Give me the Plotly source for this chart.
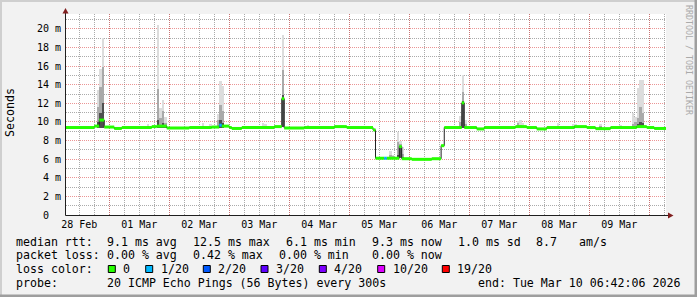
import numpy as np
import pandas as pd
import plotly.graph_objects as go

# ---------------- data ----------------
range_start = "2026-02-28 06:42:06"
range_end = "2026-03-10 06:42:06"

# median RTT (ms), step changes
median_time = [
    "2026-02-28 06:42:06", "2026-02-28 18:00", "2026-02-28 20:00", "2026-02-28 22:00",
    "2026-03-01 02:00", "2026-03-01 05:00", "2026-03-01 17:00", "2026-03-01 19:00",
    "2026-03-01 23:00", "2026-03-02 08:00", "2026-03-02 17:00", "2026-03-02 20:00",
    "2026-03-02 21:00", "2026-03-03 00:00", "2026-03-03 01:00", "2026-03-03 05:00",
    "2026-03-03 18:00", "2026-03-03 21:00", "2026-03-03 22:00", "2026-03-04 06:00",
    "2026-03-04 18:00", "2026-03-04 23:00", "2026-03-05 09:30", "2026-03-05 10:30",
    "2026-03-05 14:00", "2026-03-05 15:00", "2026-03-05 20:00", "2026-03-05 21:00",
    "2026-03-06 01:00", "2026-03-06 09:00", "2026-03-06 12:45", "2026-03-06 14:00",
    "2026-03-06 21:00", "2026-03-06 22:00", "2026-03-07 03:00", "2026-03-07 06:00",
    "2026-03-07 18:30", "2026-03-07 23:00", "2026-03-08 03:00", "2026-03-08 07:00",
    "2026-03-08 18:00", "2026-03-08 23:00", "2026-03-09 02:30", "2026-03-09 08:30",
    "2026-03-09 19:00", "2026-03-09 23:00", "2026-03-10 02:00",
]
median_ms = [
    9.40, 9.55, 10.2, 9.45,
    9.30, 9.40, 9.50, 9.55,
    9.35, 9.40, 9.45, 9.65,
    9.55, 9.40, 9.30, 9.40,
    9.50, 12.5, 9.35, 9.40,
    9.50, 9.40, 9.15, 6.10,
    6.10, 6.10, 7.35, 6.05,
    5.98, 6.05, 7.45, 9.40,
    12.05, 9.40, 9.25, 9.40,
    9.50, 9.40, 9.25, 9.40,
    9.50, 9.40, 9.28, 9.40,
    9.50, 9.40, 9.30,
]
median_loss = [
    0, 0, 0, 0,
    0, 0, 0, 0,
    0, 0, 0, 1,
    0, 0, 0, 0,
    0, 0, 0, 0,
    0, 0, 0, 0,
    1, 0, 0, 0,
    0, 0, 0, 0,
    0, 0, 0, 0,
    0, 0, 0, 0,
    0, 0, 0, 0,
    0, 0, 0,
]

# smoke (ping spread) per hourly column, ms
smoke_time = [
    "2026-02-28 19:00", "2026-02-28 20:00", "2026-02-28 21:00", "2026-03-01 15:00",
    "2026-03-01 19:00", "2026-03-01 20:00", "2026-03-01 21:00", "2026-03-01 22:00",
    "2026-03-02 13:00", "2026-03-02 16:00", "2026-03-02 19:00", "2026-03-02 20:00",
    "2026-03-02 21:00", "2026-03-03 13:00", "2026-03-03 14:00", "2026-03-03 21:00",
    "2026-03-04 07:00", "2026-03-04 20:00", "2026-03-04 21:00", "2026-03-05 16:00",
    "2026-03-05 17:00", "2026-03-05 19:00", "2026-03-05 20:00", "2026-03-05 21:00",
    "2026-03-06 20:00", "2026-03-06 21:00", "2026-03-06 22:00", "2026-03-07 19:00",
    "2026-03-07 20:00", "2026-03-07 21:00", "2026-03-08 11:00", "2026-03-08 17:00",
    "2026-03-08 18:00", "2026-03-09 04:00", "2026-03-09 12:00", "2026-03-09 17:00",
    "2026-03-09 18:00", "2026-03-09 19:00", "2026-03-09 20:00", "2026-03-09 21:00",
]
smoke_lo = [
    9.3, 9.3, 9.4, 9.4, 9.4, 9.4, 9.4, 9.4, 9.4, 9.4, 9.4, 9.4, 9.4, 9.4, 9.4, 9.5,
    9.4, 9.4, 9.4, 6.05, 6.05, 6.1, 6.1, 6.05, 9.4, 9.4, 9.4, 9.4, 9.4, 9.4, 9.4, 9.4,
    9.4, 9.4, 9.4, 9.4, 9.4, 9.4, 9.4, 9.4,
]
smoke_dark = [
    10.0, 11.0, 12.0, 9.45, 10.2, 9.7, 9.9, 9.6, 9.45, 9.45, 9.6, 10.2, 9.9, 9.45, 9.45, 12.9,
    9.45, 9.45, 9.45, 6.2, 6.15, 6.5, 7.2, 6.2, 9.6, 12.3, 9.6, 9.5, 9.5, 9.45, 9.45, 9.5,
    9.5, 9.45, 9.45, 9.5, 9.6, 9.8, 10.0, 9.9,
]
smoke_mid = [
    11.6, 13.8, 15.9, 9.55, 13.5, 10.4, 11.2, 9.9, 9.6, 9.55, 10.2, 11.8, 11.2, 9.6, 9.55, 15.6,
    9.55, 9.55, 9.55, 6.5, 6.3, 7.8, 7.6, 6.6, 10.0, 13.2, 9.8, 9.85, 9.7, 9.6, 9.55, 9.6,
    9.6, 9.55, 9.55, 9.8, 10.0, 10.4, 11.6, 11.0,
]
smoke_hi = [
    13.4, 15.7, 19.0, 9.75, 20.4, 11.5, 12.4, 10.5, 9.9, 9.8, 10.9, 14.4, 13.9, 9.85, 9.75, 19.3,
    9.7, 9.7, 9.7, 6.9, 6.45, 8.96, 8.0, 7.35, 10.6, 15.0, 10.2, 10.1, 10.2, 9.9, 9.85, 9.8,
    9.75, 9.75, 9.7, 11.0, 10.5, 13.6, 14.5, 14.5,
]

day_ticks = ["2026-02-28 12:00", "2026-03-01 12:00", "2026-03-02 12:00", "2026-03-03 12:00",
             "2026-03-04 12:00", "2026-03-05 12:00", "2026-03-06 12:00", "2026-03-07 12:00",
             "2026-03-08 12:00", "2026-03-09 12:00"]
day_labels = ["28 Feb", "01 Mar", "02 Mar", "03 Mar", "04 Mar", "05 Mar", "06 Mar",
              "07 Mar", "08 Mar", "09 Mar"]
midnights = ["2026-03-01", "2026-03-02", "2026-03-03", "2026-03-04", "2026-03-05",
             "2026-03-06", "2026-03-07", "2026-03-08", "2026-03-09", "2026-03-10"]
y_ticks = [0, 2, 4, 6, 8, 10, 12, 14, 16, 18, 20]
y_minor = [1, 3, 5, 7, 9, 11, 13, 15, 17, 19, 21]
y_labels = ["0\u00a0\u00a0", "2 m", "4 m", "6 m", "8 m", "10 m", "12 m", "14 m", "16 m", "18 m", "20 m"]

loss_levels = [0, 1, 2, 3, 4, 10, 19]
loss_labels = ["0", "1/20", "2/20", "3/20", "4/20", "10/20", "19/20"]
loss_colors = ["#26ff00", "#00b8ff", "#0059ff", "#5e00ff", "#7e00ff", "#dd00ff", "#ff0000"]

rtt_stats = ["9.1 ms avg", "12.5 ms max", "6.1 ms min", "9.3 ms now", "1.0 ms sd", "8.7", "am/s"]
loss_stats = ["0.00 % avg", "0.42 % max", "0.00 % min", "0.00 % now"]
probe_text = "20 ICMP Echo Pings (56 Bytes) every 300s"
end_text = "end: Tue Mar 10 06:42:06 2026"

# ---------------- geometry helpers (pixel -> paper) ----------------
W, H = 697, 297
PL, PR, PT, PB = 66, 666, 14, 215


def px(x):
    return (x - PL) / (PR - PL)


def py(y):
    return (PB - y) / (PB - PT)


FONT = "DejaVu Sans Mono"
fig = go.Figure()

# smoke
st = pd.to_datetime(smoke_time, format="ISO8601")
lo = np.array(smoke_lo)
for top, col in [(smoke_hi, "#dcdcdc"), (smoke_mid, "#a9a9a9"), (smoke_dark, "#4f4f4f")]:
    fig.add_trace(go.Bar(x=st, y=np.array(top) - lo, base=lo, width=3600000, offset=0,
                         marker=dict(color=col, line=dict(width=0)), showlegend=False,
                         hoverinfo="skip"))

# median black line
mt = list(pd.to_datetime(median_time, format="ISO8601")) + [pd.Timestamp(range_end)]
fig.add_trace(go.Scatter(x=mt, y=list(median_ms) + [median_ms[-1]], mode="lines",
                         line=dict(color="#202020", width=1, shape="hv"),
                         showlegend=False, hoverinfo="skip"))


def bucket(n):
    idx = 0
    for i, lv in enumerate(loss_levels):
        if n >= lv:
            idx = i
    return idx


# colored median bands per loss bucket
for b, colr in enumerate(loss_colors):
    xs, ys = [], []
    for i in range(len(median_ms)):
        if bucket(median_loss[i]) == b:
            xs += [mt[i], mt[i + 1], None]
            ys += [median_ms[i], median_ms[i], None]
    if xs:
        fig.add_trace(go.Scatter(x=xs, y=ys, mode="lines", line=dict(color=colr, width=3),
                                 showlegend=False, hoverinfo="skip"))

# invisible trace to carry the label axis
fig.add_trace(go.Scatter(x=[pd.Timestamp(range_start)], y=[0], xaxis="x2", mode="markers",
                         marker=dict(opacity=0), showlegend=False, hoverinfo="skip"))

grid_minor = "rgba(143,143,143,0.75)"
grid_major = "rgba(222,79,79,0.6)"

fig.update_layout(
    width=W, height=H, autosize=False,
    margin=dict(l=PL, r=W - PR, t=PT, b=H - PB, pad=0),
    paper_bgcolor="#f2f2f2", plot_bgcolor="#ffffff",
    font=dict(family=FONT, color="#000000", size=10),
    barmode="overlay", bargap=0,
    xaxis=dict(type="date", range=[range_start, range_end], tickmode="array",
               tickvals=midnights, showticklabels=False, ticks="",
               showgrid=True, gridcolor=grid_major, gridwidth=1, griddash="1px,1px",
               zeroline=False, showline=False,
               minor=dict(tickmode="linear", tick0="2026-03-01", dtick=21600000,
                          showgrid=True, gridcolor=grid_minor, gridwidth=1,
                          griddash="1px,1px", ticks="")),
    xaxis2=dict(type="date", overlaying="x", anchor="y", side="bottom",
                range=[range_start, range_end], tickmode="array", tickvals=day_ticks,
                ticktext=day_labels, showgrid=False, zeroline=False, showline=False,
                ticks="", tickfont=dict(family=FONT, size=10, color="#000000"),
                ticklabelstandoff=2),
    yaxis=dict(range=[0, 21.6], tickmode="array", tickvals=y_ticks, ticktext=y_labels,
               showgrid=True, gridcolor=grid_major, gridwidth=1, griddash="1px,1px",
               zeroline=False, showline=False, ticks="",
               tickfont=dict(family=FONT, size=10, color="#000000"),
               ticklabelstandoff=4,
               minor=dict(tickvals=y_minor, showgrid=True, gridcolor=grid_minor,
                          gridwidth=1, griddash="1px,1px", ticks="")),
)

shapes = []
# frame shading
shapes.append(dict(type="rect", xref="paper", yref="paper", x0=px(0), x1=px(W), y0=py(0), y1=py(2),
                   fillcolor="#cfcfcf", line=dict(width=0), layer="below"))
shapes.append(dict(type="rect", xref="paper", yref="paper", x0=px(0), x1=px(2), y0=py(0), y1=py(H),
                   fillcolor="#cfcfcf", line=dict(width=0), layer="below"))
shapes.append(dict(type="rect", xref="paper", yref="paper", x0=px(0), x1=px(W), y0=py(H - 2.5), y1=py(H),
                   fillcolor="#9e9e9e", line=dict(width=0), layer="below"))
shapes.append(dict(type="rect", xref="paper", yref="paper", x0=px(W - 2.5), x1=px(W), y0=py(0), y1=py(H),
                   fillcolor="#9e9e9e", line=dict(width=0), layer="below"))
# axes with arrows
shapes.append(dict(type="line", xref="paper", yref="paper", x0=px(PL - 0.5), x1=px(670), y0=py(PB + 0.5), y1=py(PB + 0.5),
                   line=dict(color="#1f1f1f", width=1), layer="above"))
shapes.append(dict(type="line", xref="paper", yref="paper", x0=px(PL - 0.5), x1=px(PL - 0.5), y0=py(PB + 0.5), y1=py(11),
                   line=dict(color="#1f1f1f", width=1), layer="above"))
shapes.append(dict(type="path", xref="paper", yref="paper",
                   path=f"M {px(673.5)} {py(PB + 0.5)} L {px(668)} {py(PB - 2.5)} L {px(668)} {py(PB + 3.5)} Z",
                   fillcolor="#801f1f", line=dict(width=0), layer="above"))
shapes.append(dict(type="path", xref="paper", yref="paper",
                   path=f"M {px(PL - 0.5)} {py(8)} L {px(PL - 3.5)} {py(13.5)} L {px(PL + 2.5)} {py(13.5)} Z",
                   fillcolor="#801f1f", line=dict(width=0), layer="above"))

annotations = []


def txt(x, y, s, size=11.6, **kw):
    d = dict(xref="paper", yref="paper", x=px(x), y=py(y), text=s, showarrow=False,
             xanchor="left", yanchor="middle", borderpad=0, borderwidth=0,
             font=dict(family=FONT, size=size, color="#000000"))
    d.update(kw)
    annotations.append(d)


# y title and watermark
txt(10, 113, "Seconds", size=11.6, textangle=-90, xanchor="center")
annotations.append(dict(xref="paper", yref="paper", x=px(689), y=py(60), text="RRDTOOL / TOBI OETIKER",
                        showarrow=False, textangle=90, xanchor="center", yanchor="middle",
                        font=dict(family=FONT, size=8.3, color="#aaaaaa")))

rows = [241.5, 255, 269, 283]
txt(16, rows[0], "median rtt:")
for s, x in zip(rtt_stats, [107.3, 193.3, 286, 372.3, 458.3, 536, 579.3]):
    txt(x, rows[0], s)
txt(16, rows[1], "packet loss:")
for s, x in zip(loss_stats, [107.3, 193.3, 279.3, 372.3]):
    txt(x, rows[1], s)
txt(16, rows[2], "loss color:")
box_x = [108.3, 145.7, 203.3, 261, 319.3, 377.7, 442.3]
for bx, c, lab in zip(box_x, loss_colors, loss_labels):
    shapes.append(dict(type="rect", xref="paper", yref="paper", x0=px(bx), x1=px(bx + 7),
                       y0=py(265.5), y1=py(272.5), fillcolor=c, line=dict(color="#000000", width=1),
                       layer="above"))
    txt(bx + 15, rows[2], lab)
txt(16, rows[3], "probe:")
txt(107.3, rows[3], probe_text)
txt(478.3, rows[3], end_text)

fig.update_layout(shapes=shapes, annotations=annotations)
fig.write_html("out.html")
